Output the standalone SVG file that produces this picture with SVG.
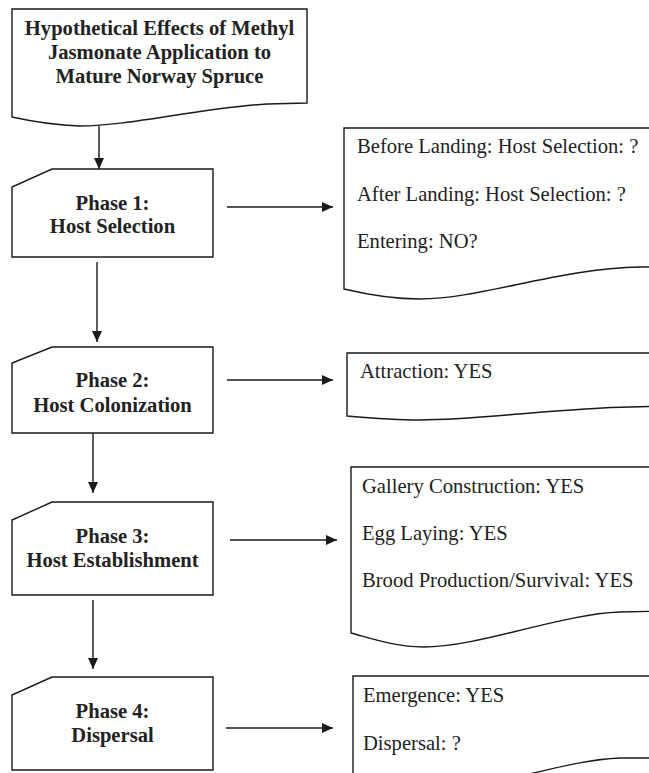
<svg xmlns="http://www.w3.org/2000/svg" width="649" height="773" viewBox="0 0 649 773">
<style>
.shape{fill:#fff;stroke:#1a1a1a;stroke-width:1.4}
.conn{stroke:#1a1a1a;stroke-width:1.4;fill:none}
.b{font-family:"Liberation Serif","Times New Roman",serif;font-weight:bold;font-size:20.6px;fill:#222;text-anchor:middle}
.r{font-family:"Liberation Serif","Times New Roman",serif;font-size:20.6px;fill:#222}
</style>
<defs>
<marker id="ah" markerUnits="userSpaceOnUse" markerWidth="11" markerHeight="10" refX="11" refY="5" orient="auto">
<path d="M0,0 L11,5 L0,10 Z" fill="#1a1a1a"/>
</marker>
</defs>
<rect width="649" height="773" fill="#fff"/>
<g id="connectors">
<line class="conn" x1="99" y1="126" x2="99" y2="169" marker-end="url(#ah)"/>
<line class="conn" x1="97" y1="262" x2="97" y2="342" marker-end="url(#ah)"/>
<line class="conn" x1="93" y1="433" x2="93" y2="493" marker-end="url(#ah)"/>
<line class="conn" x1="93" y1="600" x2="93" y2="669" marker-end="url(#ah)"/>
<line class="conn" x1="227" y1="207" x2="333" y2="207" marker-end="url(#ah)"/>
<line class="conn" x1="227" y1="380" x2="333" y2="380" marker-end="url(#ah)"/>
<line class="conn" x1="230" y1="540" x2="337" y2="540" marker-end="url(#ah)"/>
<line class="conn" x1="226" y1="728" x2="333" y2="728" marker-end="url(#ah)"/>
</g>
<g id="title">
<path class="shape" d="M12,9 H307 V103 L267,104 C200,108 130,126 80,126 C50,125 30,121 12,117 Z"/>
<text class="b" x="159.5" y="35">Hypothetical Effects of Methyl</text>
<text class="b" x="159.5" y="59">Jasmonate Application to</text>
<text class="b" x="159.5" y="83">Mature Norway Spruce</text>
</g>
<g id="phase1">
<path class="shape" d="M52,169 H213 V257 H12 V187 Z"/>
<text class="b" x="112.5" y="210">Phase 1:</text>
<text class="b" x="112.5" y="233">Host Selection</text>
</g>
<g id="phase2">
<path class="shape" d="M52,347 H213 V433 H12 V363 Z"/>
<text class="b" x="112.5" y="387">Phase 2:</text>
<text class="b" x="112.5" y="412">Host Colonization</text>
</g>
<g id="phase3">
<path class="shape" d="M52,502 H213 V595 H12 V520 Z"/>
<text class="b" x="112.5" y="543">Phase 3:</text>
<text class="b" x="112.5" y="567">Host Establishment</text>
</g>
<g id="phase4">
<path class="shape" d="M52,677 H213 V770 H12 V695 Z"/>
<text class="b" x="112.5" y="718">Phase 4:</text>
<text class="b" x="112.5" y="742">Dispersal</text>
</g>
<g id="effects1">
<path class="shape" d="M344,128 H665 V267 L640,267 C560,268 480,299 420,299 C390,299 365,294 344,289 Z"/>
<text class="r" x="357" y="153">Before Landing: Host Selection: ?</text>
<text class="r" x="357" y="201">After Landing: Host Selection: ?</text>
<text class="r" x="357" y="248">Entering: NO?</text>
</g>
<g id="effects2">
<path class="shape" d="M347,353 H665 V406 L630,407 C560,408 480,420 420,420 C395,420 370,418 347,416 Z"/>
<text class="r" x="360" y="378">Attraction: YES</text>
</g>
<g id="effects3">
<path class="shape" d="M351,467 H665 V611 L620,612 C560,614 480,647 423,647 C395,647 370,638 351,633 Z"/>
<text class="r" x="362" y="493">Gallery Construction: YES</text>
<text class="r" x="362" y="540">Egg Laying: YES</text>
<text class="r" x="362" y="587">Brood Production/Survival: YES</text>
</g>
<g id="effects4">
<path class="shape" d="M353,676 H665 V758 L620,758 C560,760 480,793 423,793 C395,793 370,784 353,779 Z"/>
<text class="r" x="363" y="702">Emergence: YES</text>
<text class="r" x="363" y="750">Dispersal: ?</text>
</g>
</svg>
